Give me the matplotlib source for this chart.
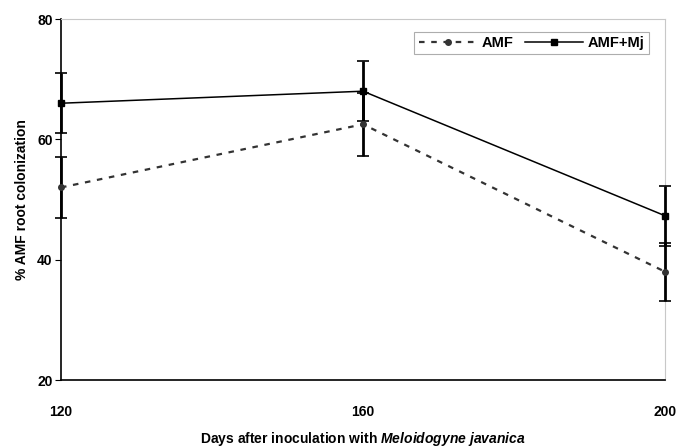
import numpy as np
import matplotlib.pyplot as plt

plt.rcParams['font.family'] = ['Liberation Sans', 'DejaVu Sans']
plt.rcParams['font.weight'] = 'bold'
plt.rcParams['mathtext.fontset'] = 'custom'
plt.rcParams['mathtext.it'] = 'Liberation Sans:italic:bold'
plt.rcParams['mathtext.rm'] = 'Liberation Sans:bold'

days = [120, 160, 200]
amf = [52, 62.5, 38]
amf_err = [5, 5.2, 4.8]
amf_mj = [66, 68, 47.3]
amf_mj_err = [5, 5, 5]

fig = plt.figure(figsize=(6.88, 4.48), dpi=100)
ax = fig.add_axes([61/688, 68/448, 604/688, 361/448])

# error bars
ax.errorbar(days, amf, yerr=amf_err, fmt='none', ecolor='black', elinewidth=2,
            capsize=4, capthick=1.2, zorder=3, clip_on=False)
ax.errorbar(days, amf_mj, yerr=amf_mj_err, fmt='none', ecolor='black', elinewidth=2,
            capsize=4, capthick=1.2, zorder=3, clip_on=False)

# lines
ax.plot(days, amf, color='#333333', linestyle=(0, (2.5, 3)), linewidth=1.6,
        marker='o', markersize=4, label='AMF', zorder=4, clip_on=False)
ax.plot(days, amf_mj, color='black', linestyle='-', linewidth=1.1,
        marker='s', markersize=5, label='AMF+Mj', zorder=5, clip_on=False)

ax.set_xlim(120, 200)
ax.set_ylim(20, 80)
ax.set_xticks(days)
ax.set_yticks([20, 40, 60, 80])
ax.tick_params(axis='x', length=0, pad=18, labelsize=10)
ax.tick_params(axis='y', length=4, direction='out', pad=2, labelsize=10)

for s in ['top', 'right']:
    ax.spines[s].set_color('#c8c8c8')
    ax.spines[s].set_linewidth(0.8)
for s in ['left', 'bottom']:
    ax.spines[s].set_linewidth(1.2)

ax.set_ylabel('% AMF root colonization', fontsize=10, fontweight='bold', labelpad=6)
ax.set_xlabel(r'Days after inoculation with $\it{Meloidogyne\ javanica}$',
              fontsize=10, fontweight='bold', labelpad=8)

leg = ax.legend(loc='upper right', ncol=2, frameon=True, fancybox=False,
                edgecolor='#999999', fontsize=10.5, handlelength=4,
                columnspacing=0.8, handletextpad=0.3, borderpad=0.3,
                bbox_to_anchor=(0.985, 0.985))
leg.get_frame().set_linewidth(0.8)

fig.savefig('out.png', dpi=100)
